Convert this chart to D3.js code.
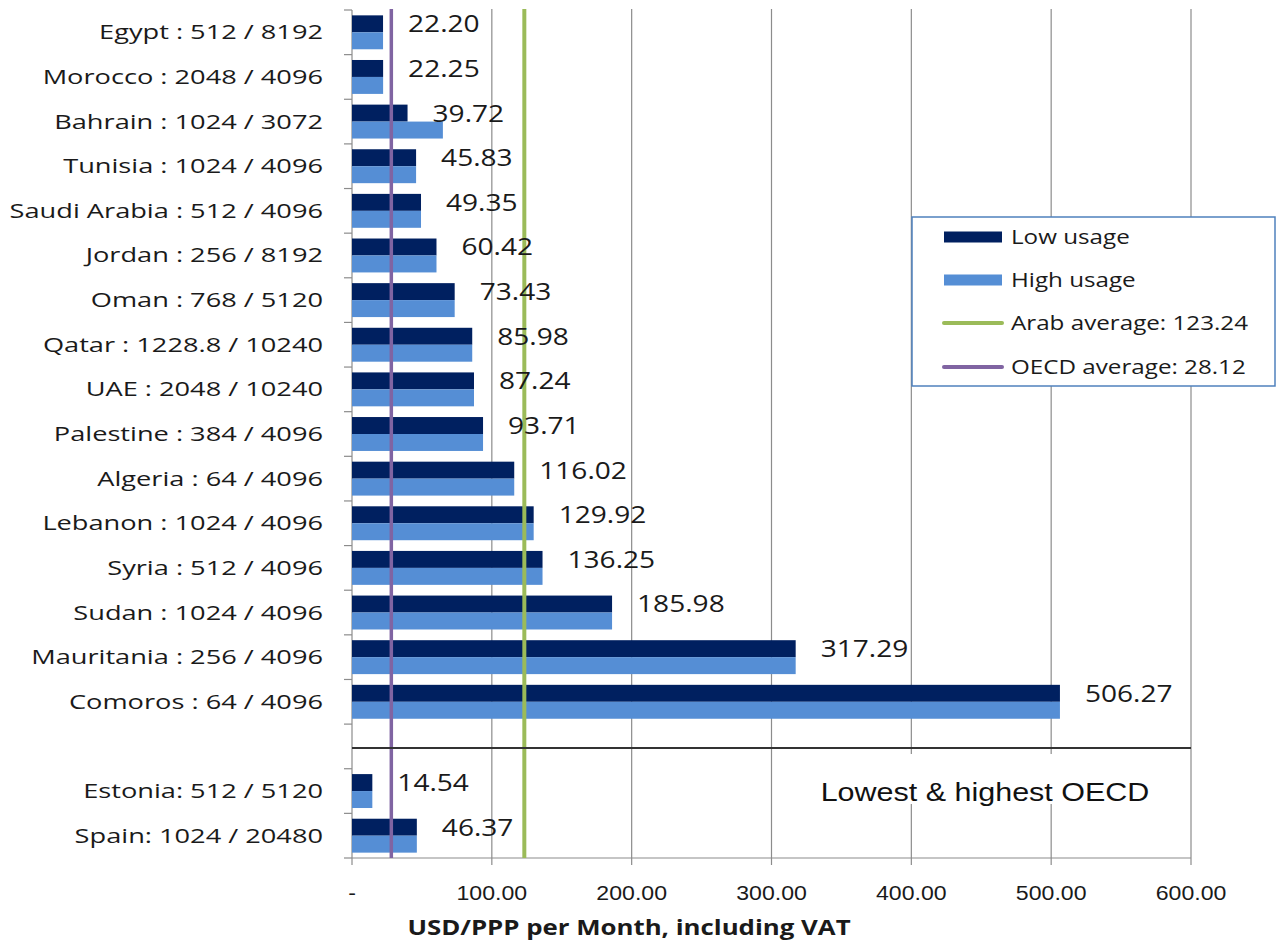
<!DOCTYPE html>
<html>
<head>
<meta charset="utf-8">
<script src="https://cdn.jsdelivr.net/npm/d3@7"></script>
<style>
  html, body { margin: 0; padding: 0; background: #fff; }
  svg { display: block; }
</style>
</head>
<body>
<svg id="chart" width="1276" height="945"></svg>
<script>
// ---- Data ----
const arabCategories = [
  "Egypt : 512 / 8192", "Morocco : 2048 / 4096", "Bahrain : 1024 / 3072",
  "Tunisia : 1024 / 4096", "Saudi Arabia : 512 / 4096", "Jordan : 256 / 8192",
  "Oman : 768 / 5120", "Qatar : 1228.8 / 10240", "UAE : 2048 / 10240",
  "Palestine : 384 / 4096", "Algeria : 64 / 4096", "Lebanon : 1024 / 4096",
  "Syria : 512 / 4096", "Sudan : 1024 / 4096", "Mauritania : 256 / 4096",
  "Comoros : 64 / 4096"
];
const arabLow  = [22.20, 22.25, 39.72, 45.83, 49.35, 60.42, 73.43, 85.98, 87.24, 93.71, 116.02, 129.92, 136.25, 185.98, 317.29, 506.27];
const arabHigh = [22.20, 22.25, 65.0, 45.83, 49.35, 60.42, 73.43, 85.98, 87.24, 93.71, 116.02, 129.92, 136.25, 185.98, 317.29, 506.27];

const oecdCategories = ["Estonia: 512 / 5120", "Spain: 1024 / 20480"];
const oecdLow  = [14.54, 46.37];
const oecdHigh = [14.54, 46.37];

const gapKey = "__gap__";
const xTicks = [0, 100, 200, 300, 400, 500, 600];
const arabAverage = 123.24;
const oecdAverage = 28.12;
const legendLabels = ["Low usage", "High usage", "Arab average: 123.24", "OECD average: 28.12"];
const axisTitle = "USD/PPP per Month, including VAT";
const oecdNote = "Lowest & highest OECD";

(function () {
// ---- Build rows ----
const rows = [];
arabCategories.forEach((c, i) => rows.push({ cat: c, low: arabLow[i], high: arabHigh[i] }));
oecdCategories.forEach((c, i) => rows.push({ cat: c, low: oecdLow[i], high: oecdHigh[i] }));
const domain = [...arabCategories, gapKey, ...oecdCategories];

// ---- Colors ----
const cLow = "#002060", cHigh = "#558ed5", cArab = "#9bbb59", cOecd = "#8064a2";
const cGrid = "#8c8c8c";

const svg = d3.select("#chart");
const plotTop = 10, plotBottom = 858;
const x = d3.scaleLinear().domain([0, 600]).range([352, 1191]);
const y = d3.scaleBand().domain(domain).range([plotTop, plotBottom]).padding(0);
const bw = y.bandwidth();

// place text with a horizontal stretch (the reference is horizontally stretched)
function place(sel, fx, fy, sx) {
  sel.attr("transform", (d, i) => `translate(${fx(d, i)},${fy(d, i)}) scale(${sx},1)`);
}

// Gridlines (vertical)
svg.append("g").selectAll("line").data(xTicks.slice(1)).join("line")
  .attr("x1", d => x(d)).attr("x2", d => x(d))
  .attr("y1", plotTop - 1).attr("y2", plotBottom + 7)
  .attr("stroke", cGrid).attr("stroke-width", 1.2);

// x axis baseline + ticks
svg.append("line").attr("x1", x(0)).attr("x2", x(600)).attr("y1", plotBottom).attr("y2", plotBottom)
  .attr("stroke", cGrid).attr("stroke-width", 1.2);
svg.append("line").attr("x1", x(0)).attr("x2", x(0)).attr("y1", plotBottom).attr("y2", plotBottom + 7)
  .attr("stroke", cGrid).attr("stroke-width", 1.2);

// y axis line + ticks at band boundaries
svg.append("line").attr("x1", x(0)).attr("x2", x(0)).attr("y1", plotTop).attr("y2", plotBottom)
  .attr("stroke", cGrid).attr("stroke-width", 1.2);
const boundaries = domain.map(d => y(d)).concat([plotBottom]);
svg.append("g").selectAll("line").data(boundaries).join("line")
  .attr("x1", x(0) - 8).attr("x2", x(0))
  .attr("y1", d => d).attr("y2", d => d)
  .attr("stroke", cGrid).attr("stroke-width", 1.2);

// Bars
const g = svg.append("g");
g.selectAll("rect.low").data(rows).join("rect").attr("class", "low")
  .attr("x", x(0)).attr("y", d => y(d.cat) + bw * 0.12)
  .attr("width", d => x(d.low) - x(0)).attr("height", bw * 0.38)
  .attr("fill", cLow);
g.selectAll("rect.high").data(rows).join("rect").attr("class", "high")
  .attr("x", x(0)).attr("y", d => y(d.cat) + bw * 0.50)
  .attr("width", d => x(d.high) - x(0)).attr("height", bw * 0.38)
  .attr("fill", cHigh);

// Average lines
svg.append("line").attr("x1", x(arabAverage)).attr("x2", x(arabAverage))
  .attr("y1", plotTop - 1).attr("y2", plotBottom).attr("stroke", cArab).attr("stroke-width", 4);
svg.append("line").attr("x1", x(oecdAverage)).attr("x2", x(oecdAverage))
  .attr("y1", plotTop - 1).attr("y2", plotBottom).attr("stroke", cOecd).attr("stroke-width", 3.5);

// Separator
const sepY = y(gapKey) + bw / 2 + 1.5;
svg.append("line").attr("x1", x(0)).attr("x2", x(600)).attr("y1", sepY).attr("y2", sepY)
  .attr("stroke", "#333").attr("stroke-width", 2);

// Value labels
const vl = svg.append("g").selectAll("text").data(rows).join("text")
  .attr("dy", "0.35em")
  .attr("font-family", "Open Sans, sans-serif").attr("font-size", 24)
  .attr("fill", "#1a1a1a")
  .text(d => d.low.toFixed(2));
place(vl, d => x(d.low) + 25, d => y(d.cat) + bw * 0.31, 1.17);

// Category labels
const cl = svg.append("g").selectAll("text").data(rows).join("text")
  .attr("dy", "0.35em").attr("text-anchor", "end")
  .attr("font-family", "Open Sans, sans-serif").attr("font-size", 20)
  .attr("fill", "#1a1a1a")
  .text(d => d.cat);
place(cl, () => 323, d => y(d.cat) + bw / 2, 1.36);

// X tick labels
const tl = svg.append("g").selectAll("text").data(xTicks).join("text")
  .attr("dy", "0.35em")
  .attr("text-anchor", "middle")
  .attr("font-family", "Liberation Sans, Arial, sans-serif").attr("font-size", 21)
  .attr("fill", "#1a1a1a")
  .text(d => d === 0 ? "-" : d.toFixed(2));
place(tl, d => x(d), () => 893, 1.1);

// Axis title
const at = svg.append("text").datum(axisTitle).attr("dy", "0.35em")
  .attr("text-anchor", "middle")
  .attr("font-family", "Open Sans, sans-serif").attr("font-weight", "bold").attr("font-size", 21)
  .attr("fill", "#1a1a1a").text(d => d);
place(at, () => 629, () => 928, 1.23);

// OECD note
svg.append("rect").attr("x", 818).attr("y", 754).attr("width", 370).attr("height", 50).attr("fill", "#fff");
const on = svg.append("text").datum(oecdNote).attr("dy", "0.35em").attr("text-anchor", "middle")
  .attr("font-family", "Liberation Sans, Arial, sans-serif").attr("font-size", 25)
  .attr("fill", "#111").text(d => d);
place(on, () => 985, () => 792, 1.22);

// Legend
const lg = svg.append("g");
lg.append("rect").attr("x", 912).attr("y", 217).attr("width", 363).attr("height", 169)
  .attr("fill", "#fff").attr("stroke", "#4f81bd").attr("stroke-width", 1.5);
const legendY = [237, 280, 323, 367];
const legendKinds = [
  { type: "rect", color: cLow }, { type: "rect", color: cHigh },
  { type: "line", color: cArab }, { type: "line", color: cOecd }
];
legendKinds.forEach((k, i) => {
  if (k.type === "rect") {
    lg.append("rect").attr("x", 944).attr("y", legendY[i] - 5.5).attr("width", 58).attr("height", 11).attr("fill", k.color);
  } else {
    lg.append("line").attr("x1", 944).attr("x2", 1002).attr("y1", legendY[i]).attr("y2", legendY[i])
      .attr("stroke", k.color).attr("stroke-width", 4).attr("stroke-linecap", "round");
  }
  const t = lg.append("text").datum(legendLabels[i]).attr("dy", "0.35em")
    .attr("font-family", "Open Sans, sans-serif").attr("font-size", 20)
    .attr("fill", "#1a1a1a").text(d => d);
  place(t, () => 1011, () => legendY[i], 1.21);
});
})();
</script>
</body>
</html>
